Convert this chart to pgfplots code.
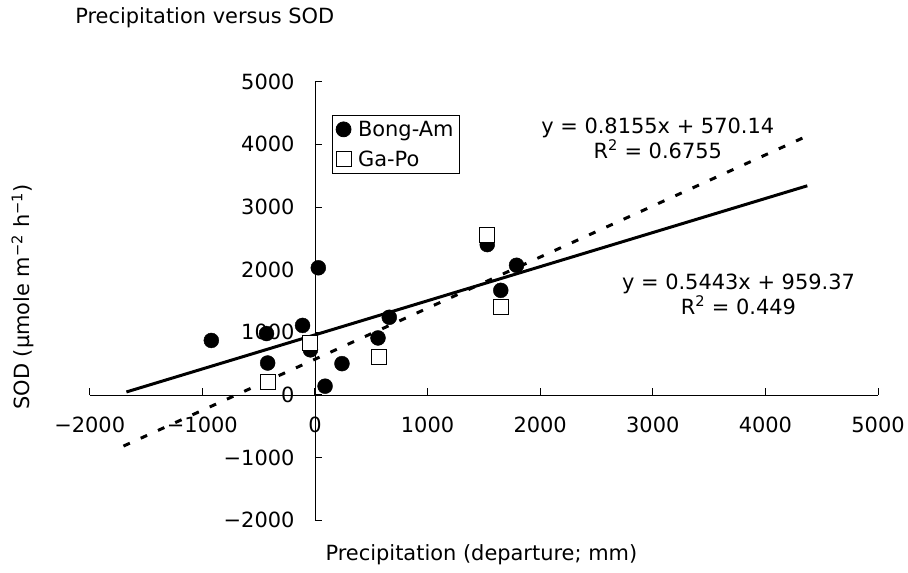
\documentclass[border=0pt]{standalone}
\usepackage{fontspec}
\setmainfont{DejaVu Sans}
\usepackage{pgfplots}
\pgfplotsset{compat=1.18}

\newcommand{\chartfont}{\fontsize{21}{25}\selectfont}

\begin{document}
\begin{tikzpicture}
\begin{axis}[
    scale only axis,
    width=791pt, height=440pt,
    xmin=-2000, xmax=5000, ymin=-2000, ymax=5000,
    axis lines=middle,
    axis line style={-, black, line width=0.8pt},
    xtick={-2000,-1000,0,1000,2000,3000,4000,5000},
    ytick={-2000,-1000,0,1000,2000,3000,4000,5000},
    xticklabels={−2000,−1000,0,1000,2000,3000,4000,5000},
    yticklabels={−2000,−1000,0,1000,2000,3000,4000,5000},
    hide obscured x ticks=false, hide obscured y ticks=false,
    tick align=inside,
    major tick length=7pt,
    tick style={black, line width=1pt},
    ticklabel style={font=\chartfont},
    xticklabel style={yshift=-19pt},
    yticklabel style={xshift=-17pt},
    clip=false,
    legend style={at={(0.307,0.925)}, anchor=north west, draw=black,
        line width=0.8pt, font=\chartfont, inner sep=4pt, row sep=9pt,
        /tikz/every odd column/.append style={column sep=5pt}},
    legend cell align=left,
]
% trend lines
\addplot[black, line width=3pt, forget plot] coordinates {(-1674,48) (4372,3339)};
\addplot[black, line width=3pt, dash pattern=on 7pt off 12pt, forget plot]
    coordinates {(-1700,-816) (4330,4101)};

% Bong-Am
\addplot[only marks, mark=*, mark size=7.5pt, black] coordinates {
(-920,870) (-430,980) (-420,510) (-110,1110) (30,2030) (-40,720)
(90,140) (240,500) (560,910) (660,1240) (1530,2400) (1790,2070) (1650,1670)
};
\addlegendentry{Bong-Am}

% Ga-Po
\addplot[only marks, mark=square*, mark size=7.5pt, draw=black, fill=white,
    mark options={line width=1pt}] coordinates {
(-420,210) (-40,830) (570,600) (1530,2560) (1650,1410)
};
\addlegendentry{Ga-Po}

\node[font=\chartfont, align=center] at (axis cs:3044,4102)
    {y = 0.8155x + 570.14\\R\textsuperscript{2} = 0.6755};
\node[font=\chartfont, align=center] at (axis cs:3761,1606)
    {y = 0.5443x + 959.37\\R\textsuperscript{2} = 0.449};

\coordinate (bl) at (rel axis cs:0,0);
\coordinate (tr) at (rel axis cs:1,1);
\end{axis}

\node[font=\chartfont, anchor=west] at ([xshift=-18pt,yshift=440pt+64pt]bl)
    {Precipitation versus SOD};
\node[font=\chartfont] at ([xshift=393pt,yshift=-35pt]bl)
    {Precipitation (departure; mm)};
\node[font=\chartfont, rotate=90] at ([xshift=-67pt,yshift=224pt]bl)
    {SOD (µmole m\textsuperscript{−2} h\textsuperscript{−1})};

\path ([xshift=-90pt,yshift=-52pt]bl) rectangle ([xshift=27pt,yshift=82pt]tr);
\end{tikzpicture}
\end{document}
